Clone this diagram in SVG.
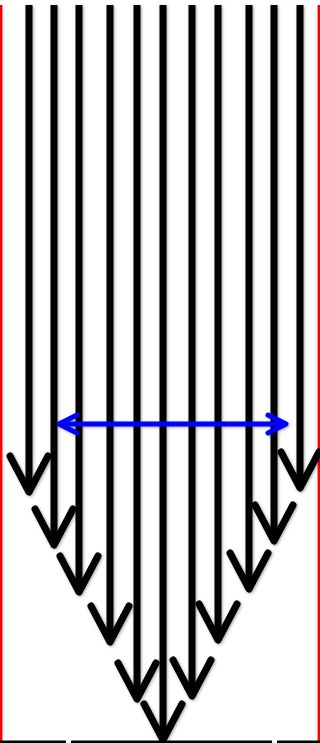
<svg xmlns="http://www.w3.org/2000/svg" width="320" height="743" viewBox="0 0 320 743">
<defs>
<filter id="sh" x="-50%" y="-10%" width="200%" height="120%">
<feDropShadow dx="1" dy="1" stdDeviation="1.5" flood-color="#000" flood-opacity="0.35"/>
</filter>
<marker id="ah" markerUnits="userSpaceOnUse" orient="auto" refX="0" refY="0" markerWidth="60" markerHeight="60" viewBox="-45 -30 60 60" overflow="visible">
<path d="M-36,-19 L0,0 L-36,19" fill="none" stroke="#000" stroke-width="7" stroke-linecap="round" stroke-linejoin="round"/>
</marker>
<marker id="bh" markerUnits="userSpaceOnUse" orient="auto-start-reverse" refX="0" refY="0" markerWidth="40" markerHeight="40" viewBox="-30 -20 40 40" overflow="visible">
<path d="M-18,-9 L0,0 L-18,9" fill="none" stroke="#0000ff" stroke-width="5" stroke-linecap="round" stroke-linejoin="round"/>
</marker>
</defs>
<style>
.red{stroke:#ff0000;stroke-width:2.5;fill:none}
.arr{stroke:#000;stroke-width:7;fill:none;marker-end:url(#ah)}
.blue{stroke:#0000ff;stroke-width:5;fill:none;marker-start:url(#bh);marker-end:url(#bh)}
.base{stroke:#000;stroke-width:3;fill:none}
</style>
<g id="walls">
<line class="red" x1="1.2" y1="5" x2="1.2" y2="741"/>
<line class="red" x1="318.8" y1="5" x2="318.8" y2="741"/>
</g>
<g id="connectors" filter="url(#sh)">
<line class="arr" x1="29" y1="5" x2="29" y2="492"/>
<line class="arr" x1="54" y1="5" x2="54" y2="545"/>
<line class="arr" x1="79" y1="5" x2="79" y2="592"/>
<line class="arr" x1="110" y1="5" x2="110" y2="642"/>
<line class="arr" x1="137" y1="5" x2="137" y2="699"/>
<line class="arr" x1="163" y1="5" x2="163" y2="740"/>
<line class="arr" x1="192" y1="5" x2="192" y2="696"/>
<line class="arr" x1="218" y1="5" x2="218" y2="640"/>
<line class="arr" x1="249" y1="5" x2="249" y2="589"/>
<line class="arr" x1="274" y1="5" x2="274" y2="541"/>
<line class="arr" x1="300" y1="5" x2="300" y2="488"/>
<line class="blue" x1="59" y1="424" x2="286" y2="424"/>
</g>
<g id="baseline">
<line class="base" x1="0" y1="742" x2="66" y2="742"/>
<line class="base" x1="71" y1="742" x2="272" y2="742"/>
<line class="base" x1="277" y1="742" x2="320" y2="742"/>
</g>
</svg>
